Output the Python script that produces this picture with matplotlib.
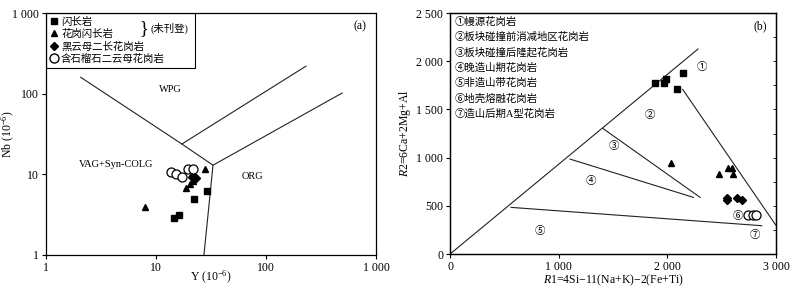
import matplotlib
matplotlib.use("Agg")
import matplotlib.pyplot as plt
from matplotlib.lines import Line2D
from matplotlib.patches import Rectangle
from matplotlib.ticker import FixedLocator, MultipleLocator

plt.rcParams['font.family'] = ['Liberation Serif', 'Noto Sans CJK SC']
plt.rcParams['mathtext.fontset'] = 'custom'
plt.rcParams['mathtext.rm'] = 'Liberation Serif'
plt.rcParams['mathtext.it'] = 'Liberation Serif:italic'
plt.rcParams['axes.linewidth'] = 0.9

# ---- (a) Nb-Y data ----
sq_y = [14.6, 16.2, 22.3, 29.3]
sq_nb = [2.9, 3.1, 5.0, 6.3]
tri_y = [7.9, 27.9, 18.7, 20.4, 21.5, 22.3]
tri_nb = [3.9, 11.6, 6.8, 7.5, 8.3, 8.9]
dia_y = [21.8, 23.1, 21.1]
dia_nb = [9.6, 9.1, 9.4]
cir_y = [13.6, 15.2, 17.1, 19.7, 21.5]
cir_nb = [10.8, 10.1, 9.2, 11.6, 11.6]

# boundary lines (Y, Nb)
line_a1_x = [2.07, 17.2, 33.0]
line_a1_y = [160, 23.8, 13.0]
line_a2_x = [17.2, 231]
line_a2_y = [23.8, 220]
line_a3_x = [27.3, 33.0, 492]
line_a3_y = [1, 13.0, 102]

legend_a = ['闪长岩', '花岗闪长岩', '黑云母二长花岗岩', '含石榴石二云母花岗岩']

# ---- (b) R1-R2 data ----
sq_r1 = [1890, 1988, 1972, 2147, 2089]
sq_r2 = [1771, 1819, 1771, 1875, 1708]
tri_r1 = [2031, 2473, 2555, 2598, 2607]
tri_r2 = [941, 827, 895, 889, 827]
dia_r1 = [2546, 2552, 2638, 2690]
dia_r2 = [584, 560, 578, 560]
cir_r1 = [2745, 2786, 2816]
cir_r2 = [405, 405, 405]

lines_b = [
    ([0, 2282], [0, 2127]),
    ([1405, 2301], [1304, 588]),
    ([2141, 2997], [1708, 301]),
    ([1104, 2239], [985, 588]),
    ([561, 2868], [484, 294]),
]
field_labels = ['①', '②', '③', '④', '⑤', '⑥', '⑦']
field_r1 = [2316, 1834, 1503, 1295, 828, 2644, 2807]
field_r2 = [1943, 1442, 1120, 757, 239, 397, 197]
legend_b = ['①幔源花岗岩', '②板块碰撞前消减地区花岗岩', '③板块碰撞后隆起花岗岩',
            '④晚造山期花岗岩', '⑤非造山带花岗岩', '⑥地壳熔融花岗岩', '⑦造山后期A型花岗岩']

fig = plt.figure(figsize=(7.94, 2.90), dpi=100)
ax1 = fig.add_axes([0.0579, 0.1207, 0.4156, 0.834])
ax2 = fig.add_axes([0.5668, 0.124, 0.4106, 0.831])

fs = 7.5
tfs = 8.5
# ----- panel a -----
for lx, ly in [(line_a1_x, line_a1_y), (line_a2_x, line_a2_y), (line_a3_x, line_a3_y)]:
    ax1.plot(lx, ly, color='#222222', lw=0.8)
ax1.plot(sq_y, sq_nb, 's', color='black', ms=4.5, ls='none')
ax1.plot(tri_y, tri_nb, '^', color='black', ms=4.5, ls='none')
ax1.plot(dia_y, dia_nb, 'D', color='black', ms=4, ls='none')
ax1.plot(cir_y, cir_nb, 'o', mfc='white', mec='black', mew=0.9, ms=6.5, ls='none')
ax1.set_xscale('log')
ax1.set_yscale('log')
ax1.set_xlim(1, 1000)
ax1.set_ylim(1, 1000)
ax1.xaxis.set_major_locator(FixedLocator([1, 10, 100, 1000]))
ax1.yaxis.set_major_locator(FixedLocator([1, 10, 100, 1000]))
ax1.set_xticklabels(['1', '10', '100', '1 000'])
ax1.set_yticklabels(['1', '10', '100', '1 000'])
ax1.minorticks_off()
ax1.tick_params(labelsize=tfs, length=3, width=0.8, pad=2)
ax1.set_xlabel('Y (10$^{-6}$)', fontsize=8.5, va='center')
ax1.xaxis.set_label_coords(0.5, -0.095)
ax1.set_ylabel('Nb (10$^{-6}$)', fontsize=8.5, va='center')
ax1.yaxis.set_label_coords(-0.115, 0.5)
ax1.text(13.4, 114, 'WPG', fontsize=fs, ha='center', va='center')
ax1.text(4.3, 13.4, 'VAG+Syn-COLG', fontsize=fs, ha='center', va='center')
ax1.text(76, 9.5, 'ORG', fontsize=fs, ha='center', va='center')
ax1.text(0.951, 0.946, '(a)', transform=ax1.transAxes, fontsize=8.5, ha='center', va='center')

handles = [
    Line2D([], [], marker='s', color='black', ls='none', ms=4.5),
    Line2D([], [], marker='^', color='black', ls='none', ms=4.5),
    Line2D([], [], marker='D', color='black', ls='none', ms=4),
    Line2D([], [], marker='o', mfc='white', mec='black', ls='none', ms=6.5),
]
leg = ax1.legend(handles, legend_a, loc='upper left', bbox_to_anchor=(0, 1),
                 borderaxespad=0, fontsize=fs, handlelength=0.8, handletextpad=0.3,
                 labelspacing=0.22, borderpad=0.35, frameon=False)
ax1.add_patch(Rectangle((0, 1 - 55 / 242), 149 / 330, 55 / 242, transform=ax1.transAxes,
                        fill=False, edgecolor='black', lw=0.8, zorder=5))
ax1.text(0.283, 0.938, '}', transform=ax1.transAxes, fontsize=13, ha='left', va='center')
ax1.text(0.318, 0.936, '(未刊登)', transform=ax1.transAxes, fontsize=fs, ha='left', va='center')

# ----- panel b -----
for lx, ly in lines_b:
    ax2.plot(lx, ly, color='#222222', lw=0.8)
ax2.plot(sq_r1, sq_r2, 's', color='black', ms=4.5, ls='none')
ax2.plot(tri_r1, tri_r2, '^', color='black', ms=4.5, ls='none')
ax2.plot(dia_r1, dia_r2, 'D', color='black', ms=4, ls='none')
ax2.plot(cir_r1, cir_r2, 'o', mfc='white', mec='black', mew=0.9, ms=6.5, ls='none')
for lab, x, y in zip(field_labels, field_r1, field_r2):
    ax2.text(x, y, lab, fontsize=fs, ha='center', va='center')
ax2.set_xlim(0, 3000)
ax2.set_ylim(0, 2500)
ax2.xaxis.set_major_locator(FixedLocator([0, 1000, 2000, 3000]))
ax2.yaxis.set_major_locator(FixedLocator([0, 500, 1000, 1500, 2000, 2500]))
ax2.set_xticklabels(['0', '1 000', '2 000', '3 000'])
ax2.set_yticklabels(['0', '500', '1 000', '1 500', '2 000', '2 500'])
ax2.tick_params(labelsize=tfs, length=3, width=0.8, pad=2)
ax2.set_xlabel('$\\mathit{R}$1=4Si\u221211(Na+K)\u22122(Fe+Ti)', fontsize=8.5, va='center')
ax2.xaxis.set_label_coords(0.5, -0.11)
ax2.set_ylabel('$\\mathit{R}$2=6Ca+2Mg+Al', fontsize=8.5, va='center')
ax2.yaxis.set_label_coords(-0.138, 0.5)
ax2.text(0.951, 0.946, '(b)', transform=ax2.transAxes, fontsize=8.5, ha='center', va='center')
for i, t in enumerate(legend_b):
    ax2.text(0.015, 0.963 - i * 0.0635, t, transform=ax2.transAxes, fontsize=fs,
             ha='left', va='center')

# small inward ticks on the right spine every 250
ax2r = ax2.twinx()
ax2r.set_ylim(0, 2500)
ax2r.yaxis.set_major_locator(MultipleLocator(250))
ax2r.tick_params(axis='y', direction='in', length=2, width=0.6, labelright=False)

fig.savefig('out.png', dpi=100)
